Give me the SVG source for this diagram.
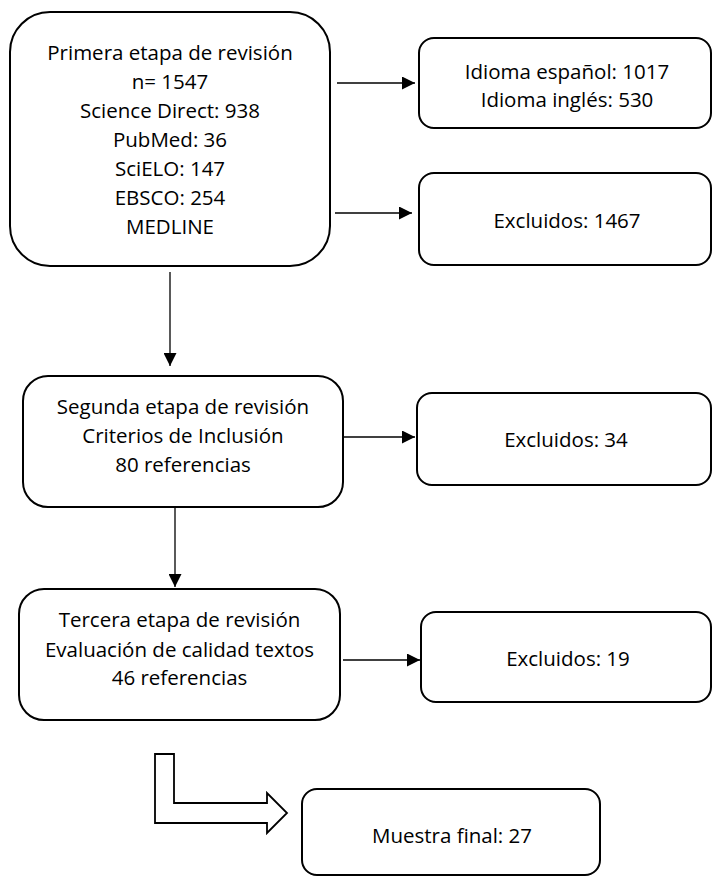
<svg xmlns="http://www.w3.org/2000/svg" width="712" height="876" viewBox="0 0 712 876">
<style>
.box{fill:#fff;stroke:#000;stroke-width:2}
.t{font-family:"Open Sans","Noto Sans","DejaVu Sans",sans-serif;font-size:20.5px;fill:#000;text-anchor:middle}
.c{stroke:#000;stroke-width:1.3;fill:none;marker-end:url(#ah)}
</style>
<defs>
<marker id="ah" markerUnits="userSpaceOnUse" markerWidth="14" markerHeight="13" refX="13" refY="6.5" orient="auto">
<path d="M0,0 L13,6.5 L0,13 Z" fill="#000"/>
</marker>
</defs>
<rect width="712" height="876" fill="#fff"/>
<g id="connectors">
<line class="c" x1="337" y1="83" x2="415" y2="83"/>
<line class="c" x1="335" y1="213" x2="412" y2="213"/>
<line class="c" x1="170" y1="272" x2="170" y2="366"/>
<line class="c" x1="337" y1="437" x2="415" y2="437"/>
<line class="c" x1="175" y1="507" x2="175" y2="587"/>
<line class="c" x1="343" y1="660" x2="420" y2="660"/>
<polygon id="block-arrow" points="155,754 174,754 174,803 267,803 267,793 287,813 267,833 267,823 155,823" fill="#fff" stroke="#000" stroke-width="1.8"/>
</g>
<g id="primera">
<rect class="box" x="10" y="12" width="320" height="254" rx="40"/>
<text class="t" x="170" y="60">Primera etapa de revisión</text>
<text class="t" x="170" y="89">n= 1547</text>
<text class="t" x="170" y="118">Science Direct: 938</text>
<text class="t" x="170" y="147">PubMed: 36</text>
<text class="t" x="170" y="176">SciELO: 147</text>
<text class="t" x="170" y="205">EBSCO: 254</text>
<text class="t" x="170" y="234">MEDLINE</text>
</g>
<g id="idioma">
<rect class="box" x="419" y="38" width="292" height="90" rx="15"/>
<text class="t" x="567" y="79">Idioma español: 1017</text>
<text class="t" x="567" y="107">Idioma inglés: 530</text>
</g>
<g id="excluidos1467">
<rect class="box" x="419" y="173" width="292" height="92" rx="15"/>
<text class="t" x="567" y="228">Excluidos: 1467</text>
</g>
<g id="segunda">
<rect class="box" x="23" y="376" width="320" height="131" rx="25"/>
<text class="t" x="183" y="414">Segunda etapa de revisión</text>
<text class="t" x="183" y="443">Criterios de Inclusión</text>
<text class="t" x="183" y="472">80 referencias</text>
</g>
<g id="excluidos34">
<rect class="box" x="417" y="393" width="294" height="92" rx="15"/>
<text class="t" x="566" y="447">Excluidos: 34</text>
</g>
<g id="tercera">
<rect class="box" x="19" y="589" width="321" height="131" rx="25"/>
<text class="t" x="179.5" y="627">Tercera etapa de revisión</text>
<text class="t" x="179.5" y="657">Evaluación de calidad textos</text>
<text class="t" x="179.5" y="685">46 referencias</text>
</g>
<g id="excluidos19">
<rect class="box" x="421" y="612" width="290" height="90" rx="15"/>
<text class="t" x="568" y="666">Excluidos: 19</text>
</g>
<g id="muestra">
<rect class="box" x="302" y="789" width="298" height="86" rx="15"/>
<text class="t" x="452" y="843">Muestra final: 27</text>
</g>
</svg>
